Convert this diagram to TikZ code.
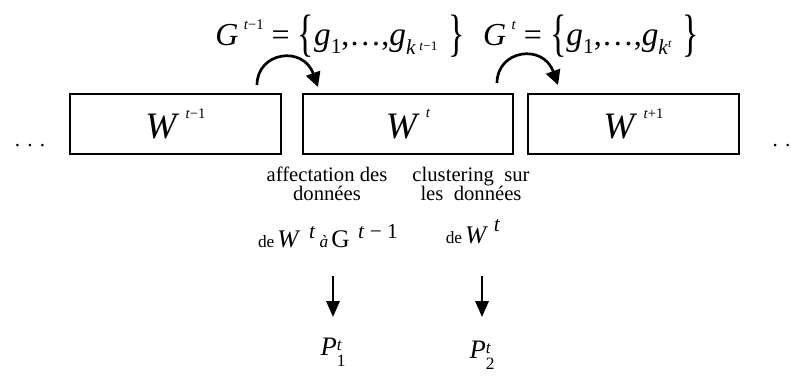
\documentclass[tikz,border=0pt]{standalone}
\usepackage{fontspec}
\setmainfont{Liberation Serif}
\usetikzlibrary{arrows.meta}
\newcommand\fsz[1]{\fontsize{#1}{#1}\selectfont}
\newcommand\lbr{\raisebox{-4pt}{\scalebox{0.8}[1.2]{\fsz{32}\{}}}
\newcommand\rbr{\raisebox{-4pt}{\scalebox{0.8}[1.2]{\fsz{32}\}}}}
\begin{document}
\begin{tikzpicture}[x=0.75pt,y=-0.75pt,
  win/.style={draw,line width=1.6pt,minimum width=158pt,minimum height=45pt,inner sep=0pt},
  lbl/.style={align=center,font=\fontsize{15.5}{14.5}\selectfont,inner sep=0pt},
  carrow/.style={line width=2pt,-{Triangle[length=11pt,width=11pt]}},
  darrow/.style={line width=1.8pt,-{Triangle[length=12pt,width=10pt]}}]
\useasboundingbox (0,0) rectangle (791,380);
\node[win] (w1) at (175.5,124) {\fsz{28}\textit{W}\,\raisebox{0.55em}{\fsz{11}\textit{t}−1}};
\node[win] (w2) at (408,124) {\fsz{28}\textit{W}\,\raisebox{0.55em}{\fsz{11}\textit{t}}};
\node[win] (w3) at (633.5,124) {\fsz{28}\textit{W}\,\raisebox{0.55em}{\fsz{11}\textit{t}+1}};
\node[font=\fsz{16}] (dl) at (30,146) {.\,\,.\,\,.};
\node[font=\fsz{16},anchor=west] (dr) at (768,146) {.\,\,.\,\,.};
\node[inner sep=0pt] (g1) at (340,36) {\fsz{24}\textit{G}\,\raisebox{0.5em}{\fsz{11}\textit{t}−1} = \lbr{\fsz{25}\textit{g}}\raisebox{-0.25em}{\fsz{16}1},…,{\fsz{25}\textit{g}}\raisebox{-0.3em}{\fsz{16}\textit{k}\,\raisebox{0.2em}{\fsz{10}\textit{t}−1}}\,\,\rbr};
\node[inner sep=0pt] (g2) at (591,36) {\fsz{24}\textit{G}\,\raisebox{0.5em}{\fsz{11}\textit{t}} = \lbr{\fsz{25}\textit{g}}\raisebox{-0.25em}{\fsz{16}1},…,{\fsz{25}\textit{g}}\raisebox{-0.3em}{\fsz{16}\textit{k}\raisebox{0.35em}{\fsz{9}\textit{t}}}\,\,\rbr};
\coordinate (a1s) at (257,85);
\coordinate (a1e) at (318,87);
\coordinate (a2s) at (497,83);
\coordinate (a2e) at (558,85);
\draw[carrow] (a1s) .. controls (257,52) and (303,45) .. (a1e);
\draw[carrow] (a2s) .. controls (497,50) and (543,43) .. (a2e);
\node[lbl] (t1) at (327,184) {affectation des\\données};
\node[lbl] (t2) at (471,184) {clustering\ \ sur\\les\ \ données};
\node[inner sep=0pt] (t3) at (328,236) {\fsz{13}de\,{\fsz{19}\textit{W}}\ \ \raisebox{0.55em}{\fsz{16}\textit{t}}\ \textit{à}\,{\fsz{19}G}\ \ \raisebox{0.55em}{\fsz{16}\textit{t} − 1}};
\node[inner sep=0pt] (t4) at (473,232) {\fsz{13}de\,{\fsz{19}\textit{W}}\,\,\raisebox{0.7em}{\fsz{16}\textit{t}}};
\node[inner sep=0pt] (p1) at (333,352) {\fsz{20}\textit{P}\raisebox{-0.42em}{\fsz{13}\shortstack[l]{\textit{t}\\1}}};
\node[inner sep=0pt] (p2) at (482,355) {\fsz{20}\textit{P}\raisebox{-0.42em}{\fsz{13}\shortstack[l]{\textit{t}\\2}}};
\coordinate (d1s) at (333,276);
\coordinate (d1e) at (333,317);
\coordinate (d2s) at (482,276);
\coordinate (d2e) at (482,317);
\draw[darrow] (d1s) -- (d1e);
\draw[darrow] (d2s) -- (d2e);
\end{tikzpicture}
\end{document}
